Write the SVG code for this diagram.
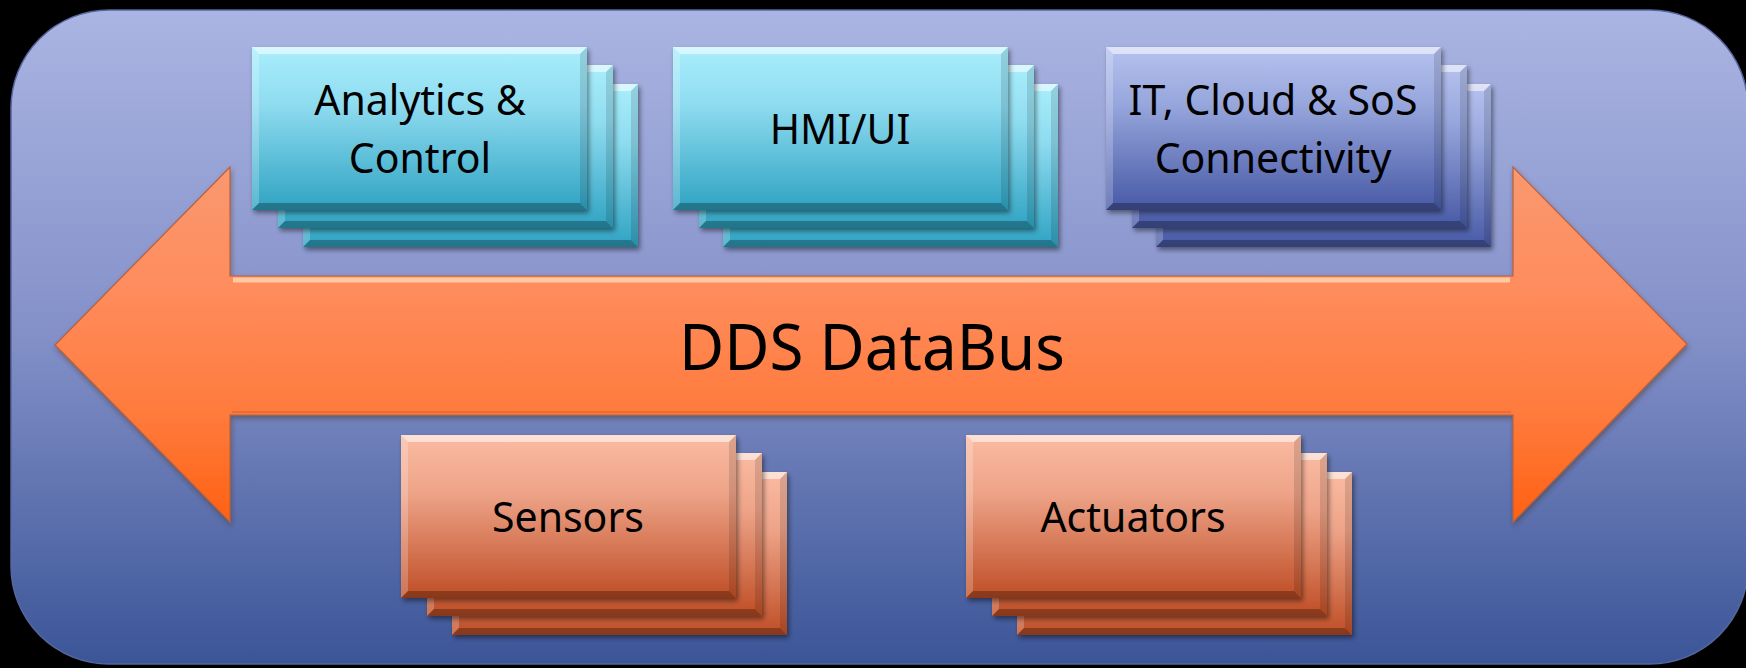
<svg xmlns="http://www.w3.org/2000/svg" xmlns:xlink="http://www.w3.org/1999/xlink" width="1746" height="668" viewBox="0 0 1746 668">
<style>
  .lbl { font-family: "Noto Sans", "Open Sans", "Liberation Sans", sans-serif; font-size: 41px; fill: #000; text-anchor: middle; }
  .bus { font-family: "Noto Sans", "Open Sans", "Liberation Sans", sans-serif; font-size: 64px; fill: #000; text-anchor: middle; }
</style>
<defs>
  <linearGradient id="gBg" x1="0" y1="0" x2="0" y2="1">
    <stop offset="0" stop-color="#abb5e3"/>
    <stop offset="0.5" stop-color="#8390c8"/>
    <stop offset="1" stop-color="#3b5597"/>
  </linearGradient>
  <linearGradient id="gCyan" x1="0" y1="0" x2="0" y2="1">
    <stop offset="0" stop-color="#a9eefc"/>
    <stop offset="0.35" stop-color="#8fdcf0"/>
    <stop offset="1" stop-color="#2fa3c2"/>
  </linearGradient>
  <linearGradient id="gBlue" x1="0" y1="0" x2="0" y2="1">
    <stop offset="0" stop-color="#b6c2ef"/>
    <stop offset="0.35" stop-color="#97a6dc"/>
    <stop offset="1" stop-color="#4759a5"/>
  </linearGradient>
  <linearGradient id="gOrange" x1="0" y1="0" x2="0" y2="1">
    <stop offset="0" stop-color="#fabba2"/>
    <stop offset="0.35" stop-color="#eea489"/>
    <stop offset="1" stop-color="#bf4e26"/>
  </linearGradient>
  <linearGradient id="gArrow" gradientUnits="userSpaceOnUse" x1="0" y1="167" x2="0" y2="522">
    <stop offset="0" stop-color="#f99870"/>
    <stop offset="0.35" stop-color="#ff8c5c"/>
    <stop offset="0.7" stop-color="#ff7a3c"/>
    <stop offset="1" stop-color="#ff6112"/>
  </linearGradient>
  <filter id="sh" x="-5%" y="-5%" width="115%" height="120%">
    <feDropShadow dx="2" dy="3" stdDeviation="2.5" flood-color="#000" flood-opacity="0.45"/>
  </filter>
  <filter id="shA" x="-5%" y="-10%" width="110%" height="125%">
    <feDropShadow dx="1" dy="3" stdDeviation="2.5" flood-color="#402010" flood-opacity="0.4"/>
  </filter>
  <g id="bevel">
    <polygon points="0,0 335,0 328,7 7,7" fill="#fff" fill-opacity="0.55"/>
    <polygon points="0,0 7,7 7,156 0,163" fill="#fff" fill-opacity="0.22"/>
    <polygon points="335,0 335,163 328,156 328,7" fill="#000" fill-opacity="0.12"/>
    <polygon points="0,163 7,156 328,156 335,163" fill="#000" fill-opacity="0.28"/>
  </g>
  <g id="tile">
    <rect width="335" height="163"/>
    <use href="#bevel" xlink:href="#bevel"/>
  </g>
</defs>

<rect x="0" y="0" width="1746" height="668" fill="#000"/>
<rect x="11" y="10" width="1737" height="654" rx="98" ry="98" fill="url(#gBg)" stroke="#56679f" stroke-width="1.5"/>

<g id="analytics">
  <use href="#tile" xlink:href="#tile" x="303" y="84" fill="url(#gCyan)" filter="url(#sh)"/>
  <use href="#tile" xlink:href="#tile" x="278" y="65" fill="url(#gCyan)" filter="url(#sh)"/>
  <use href="#tile" xlink:href="#tile" x="252" y="47" fill="url(#gCyan)" filter="url(#sh)"/>
  <text class="lbl" x="420" y="115">Analytics &amp;</text>
  <text class="lbl" x="420" y="173">Control</text>
</g>

<g id="hmi">
  <use href="#tile" xlink:href="#tile" x="723" y="84" fill="url(#gCyan)" filter="url(#sh)"/>
  <use href="#tile" xlink:href="#tile" x="699" y="65" fill="url(#gCyan)" filter="url(#sh)"/>
  <use href="#tile" xlink:href="#tile" x="673" y="47" fill="url(#gCyan)" filter="url(#sh)"/>
  <text class="lbl" x="840" y="144">HMI/UI</text>
</g>

<g id="it-cloud">
  <use href="#tile" xlink:href="#tile" x="1156" y="84" fill="url(#gBlue)" filter="url(#sh)"/>
  <use href="#tile" xlink:href="#tile" x="1132" y="65" fill="url(#gBlue)" filter="url(#sh)"/>
  <use href="#tile" xlink:href="#tile" x="1106" y="47" fill="url(#gBlue)" filter="url(#sh)"/>
  <text class="lbl" x="1273" y="115">IT, Cloud &amp; SoS</text>
  <text class="lbl" x="1273" y="173">Connectivity</text>
</g>

<g id="databus">
  <path d="M55,345 L230,167 L230,276 L1513,276 L1513,167 L1687,344 L1513,522 L1513,415 L230,415 L230,522 Z" fill="url(#gArrow)" stroke="#b8603c" stroke-width="1.2" stroke-linejoin="miter" filter="url(#shA)"/>
  <line x1="233" y1="280" x2="1510" y2="280" stroke="#ffd4ad" stroke-width="5" stroke-opacity="0.85"/>
  <line x1="232" y1="412" x2="1511" y2="412" stroke="#c85a2a" stroke-width="2" stroke-opacity="0.4"/>
  <text class="bus" x="872" y="370" textLength="386" lengthAdjust="spacingAndGlyphs">DDS DataBus</text>
</g>

<g id="sensors">
  <use href="#tile" xlink:href="#tile" x="452" y="472" fill="url(#gOrange)" filter="url(#sh)"/>
  <use href="#tile" xlink:href="#tile" x="427" y="453" fill="url(#gOrange)" filter="url(#sh)"/>
  <use href="#tile" xlink:href="#tile" x="401" y="435" fill="url(#gOrange)" filter="url(#sh)"/>
  <text class="lbl" x="568" y="532">Sensors</text>
</g>

<g id="actuators">
  <use href="#tile" xlink:href="#tile" x="1017" y="472" fill="url(#gOrange)" filter="url(#sh)"/>
  <use href="#tile" xlink:href="#tile" x="992" y="453" fill="url(#gOrange)" filter="url(#sh)"/>
  <use href="#tile" xlink:href="#tile" x="966" y="435" fill="url(#gOrange)" filter="url(#sh)"/>
  <text class="lbl" x="1133" y="532">Actuators</text>
</g>

<g id="connectors"></g>
</svg>
